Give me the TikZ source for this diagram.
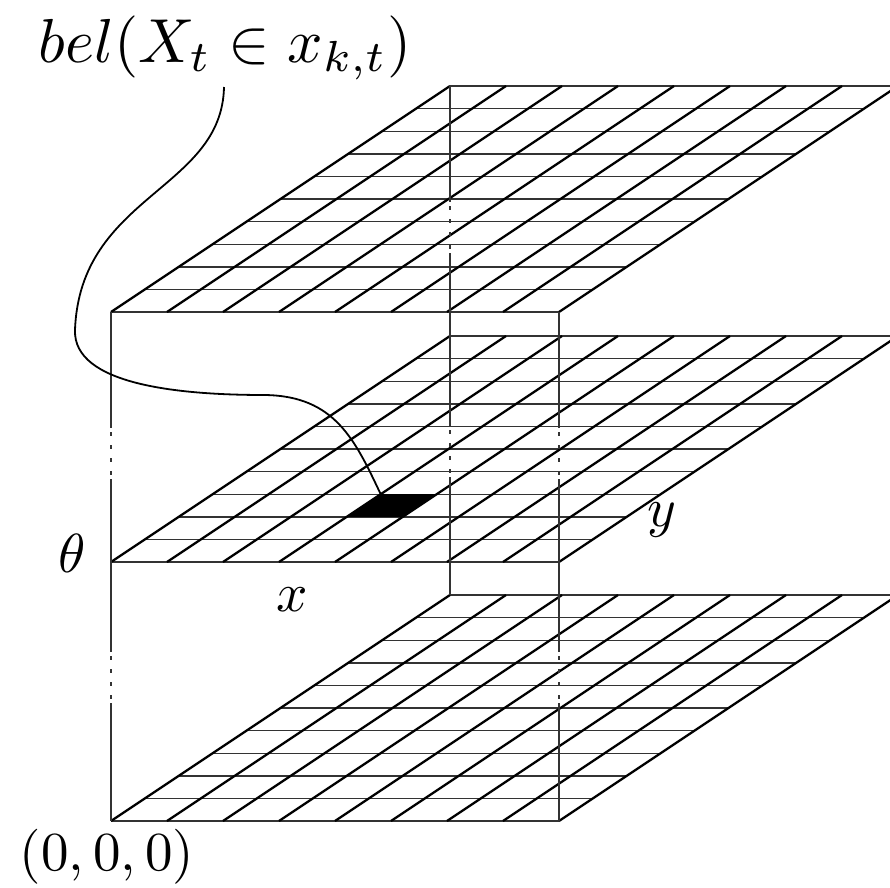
\documentclass[tikz,border=0pt]{standalone}
\usepackage{amsmath,amssymb}
\usepackage{xcolor}
\usepackage{tikz}
\usetikzlibrary{calc}
\definecolor{gridgray}{HTML}{333333}

\begin{document}
\begin{tikzpicture}[
  x=1pt,y=-1pt,
  slant/.style={line width=2.3pt,draw=black},
  rowline/.style={line width=1.4pt,draw=gridgray},
  vupper/.style={line width=1.4pt,draw=gridgray,
                 dash pattern=on 116pt off 4pt on 4pt off 9pt on 4pt off 9pt on 4pt off 9pt on 4pt off 4pt on 300pt},
  vlower/.style={line width=1.4pt,draw=gridgray,
                 dash pattern=on 90pt off 4pt on 4pt off 9pt on 4pt off 9pt on 4pt off 9pt on 4pt off 4pt on 300pt},
  lbl/.style={inner sep=0pt,scale=5.5},
  link/.style={line width=1.8pt,draw=black}
]
\useasboundingbox (0,0) rectangle (890,887);
% three x-y planes, one per theta level
\foreach \f/\nm in {312/top,562/mid,821/bot}{
  \coordinate (\nm-fl) at (111,\f);
  \coordinate (\nm-fr) at (559,\f);
  \coordinate (\nm-bl) at (450,\f-226);
  \foreach \i in {0,...,10}
    \draw[rowline] ($(\nm-fl)+(\i*33.9,-\i*22.6)$) -- ($(\nm-fr)+(\i*33.9,-\i*22.6)$);
  \foreach \j in {0,...,8}
    \draw[slant] ($(\nm-fl)+(\j*56,0)$) -- ($(\nm-bl)+(\j*56,0)$);
}
% vertical edges of the box
\draw[vupper] (top-fl) -- (mid-fl); \draw[vlower] (mid-fl) -- (bot-fl);
\draw[vupper] (top-fr) -- (mid-fr); \draw[vlower] (mid-fr) -- (bot-fr);
\draw[vupper] (top-bl) -- (mid-bl); \draw[vlower] (mid-bl) -- (bot-bl);
% the marked cell
\coordinate (cell) at ($(mid-fl)+(3*56+3*33.9,-3*22.6)$);
\fill (cell) -- ++(56,0) -- ++(-33.9,22.6) -- ++(-56,0) -- cycle;
% labels
\node[lbl,scale=1.13] (bel) at (225,48) {$bel(X_t\in x_{k,t})$};
\node[lbl] (theta) at (72,553) {$\theta$};
\node[lbl] (xlab) at (292,600) {$x$};
\node[lbl] (ylab) at (662,520) {$y$};
\node[lbl] (orig) at (107,857) {$(0,0,0)$};
\draw[link] (224,87) .. controls (222,190) and (80,195) .. (75,330)
  .. controls (73,385) and (180,395) .. (265,395)
  .. controls (335,396) and (355,440) .. (cell);
\end{tikzpicture}
\end{document}
